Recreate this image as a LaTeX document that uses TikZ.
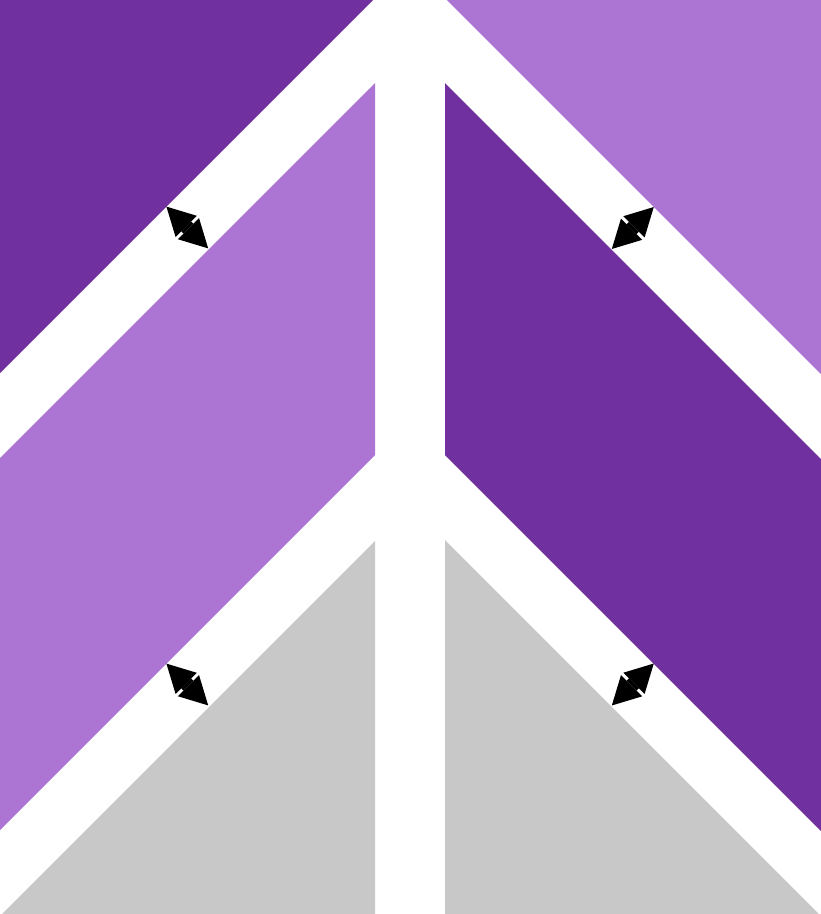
\documentclass[tikz,border=0pt]{standalone}
\usepackage{tikz}
\usetikzlibrary{arrows.meta}
\usepackage{xcolor}
\definecolor{darkviolet}{RGB}{112,48,160}
\definecolor{lightviolet}{RGB}{172,117,212}
\definecolor{lightgrey}{RGB}{200,200,200}
\tikzset{gaparrow/.style={line width=14pt,
    {Triangle[length=28pt,width=30pt,line width=0pt]}-{Triangle[length=28pt,width=30pt,line width=0pt]}}}

\begin{document}
\begin{tikzpicture}[x=1pt,y=-1pt]
  \useasboundingbox[fill=white] (0,0) rectangle (821,914);
  % left half
  \path[fill=darkviolet]  (0,0) -- (373,0) -- (0,373) -- cycle;
  \path[fill=lightviolet] (375,83) -- (375,455) -- (0,830) -- (0,458) -- cycle;
  \path[fill=lightgrey]   (375,541) -- (375,914) -- (2,914) -- cycle;
  % right half
  \path[fill=lightviolet] (447,0) -- (821,0) -- (821,374) -- cycle;
  \path[fill=darkviolet]  (445,83) -- (821,459) -- (821,831) -- (445,455) -- cycle;
  \path[fill=lightgrey]   (445,540) -- (819,914) -- (445,914) -- cycle;
  % arrows across the gaps
  \coordinate (lt1) at (166.4,206.6);  \coordinate (lt2) at (208.2,248.4);
  \coordinate (lb1) at (166.4,663.6);  \coordinate (lb2) at (208.2,705.4);
  \coordinate (rt1) at (611.8,249);    \coordinate (rt2) at (653.8,207);
  \coordinate (rb1) at (611.8,705.5);  \coordinate (rb2) at (653.8,663.5);
  \draw[gaparrow] (lt1) -- (lt2);
  \draw[gaparrow] (lb1) -- (lb2);
  \draw[gaparrow] (rt1) -- (rt2);
  \draw[gaparrow] (rb1) -- (rb2);
\end{tikzpicture}
\end{document}
